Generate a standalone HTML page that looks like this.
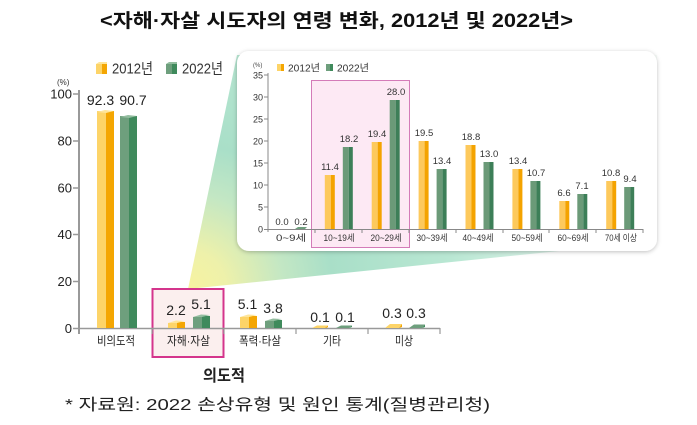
<!DOCTYPE html>
<html><head><meta charset="utf-8"><style>
html,body{margin:0;padding:0;background:#fff;}
svg{display:block;font-family:"Liberation Sans","Noto Sans CJK KR",sans-serif;}
</style></head><body>
<svg width="697" height="425" viewBox="0 0 697 425" xmlns="http://www.w3.org/2000/svg">
<defs>
<radialGradient id="wg" gradientUnits="userSpaceOnUse" cx="188" cy="289" r="480">
<stop offset="0" stop-color="#f7f3a0"/>
<stop offset="0.08" stop-color="#eef1aa"/>
<stop offset="0.2" stop-color="#c3e7c4"/>
<stop offset="0.3" stop-color="#a9dfc8"/>
<stop offset="0.55" stop-color="#b9e7d3"/>
<stop offset="0.8" stop-color="#dff3ea"/>
<stop offset="1" stop-color="#f7fcf9"/>
</radialGradient>
<filter id="sh" x="-5%" y="-5%" width="110%" height="115%">
<feDropShadow dx="0" dy="1" stdDeviation="2" flood-color="#000" flood-opacity="0.25"/>
</filter>
</defs>

<!-- Title -->
<text x="100" y="27" font-size="19" font-weight="bold" fill="#111" textLength="473" lengthAdjust="spacingAndGlyphs">&lt;자해·자살 시도자의 연령 변화, 2012년 및 2022년&gt;</text>

<!-- wedge -->
<polygon points="188,289 237,55 657,55 657,241" fill="url(#wg)"/>

<!-- main legend -->
<rect x="96" y="64" width="6" height="10" fill="#fdd468"/><rect x="102" y="64" width="5" height="10" fill="#f4a602"/><polygon points="96,64 99,62 107,62 107,64" fill="#fee59a"/>
<text x="112" y="73.5" font-size="15" fill="#333" textLength="41" lengthAdjust="spacingAndGlyphs">2012년</text>
<rect x="166" y="64" width="6" height="10" fill="#6e9f7d"/><rect x="172" y="64" width="5" height="10" fill="#3f8a5c"/><polygon points="166,64 169,62 177,62 177,64" fill="#93bd9f"/>
<text x="182" y="73.5" font-size="15" fill="#333" textLength="41" lengthAdjust="spacingAndGlyphs">2022년</text>

<!-- main axis -->
<text x="57" y="85" font-size="8" fill="#333">(%)</text>
<line x1="79" y1="90" x2="79" y2="334" stroke="#999" stroke-width="2"/>
<g stroke="#999" stroke-width="1.5">
<line x1="73" y1="94" x2="79" y2="94"/><line x1="73" y1="141" x2="79" y2="141"/><line x1="73" y1="188" x2="79" y2="188"/><line x1="73" y1="234.5" x2="79" y2="234.5"/><line x1="73" y1="281.5" x2="79" y2="281.5"/>
</g>
<g font-size="13" fill="#222" text-anchor="end">
<text x="72" y="98.5">100</text><text x="72" y="145.5">80</text><text x="72" y="192.5">60</text><text x="72" y="239">40</text><text x="72" y="286">20</text><text x="72" y="333">0</text>
</g>

<!-- pink box main -->
<rect x="152.5" y="289" width="71" height="68" fill="#fbefee" stroke="#d4358c" stroke-width="2"/>

<line x1="73" y1="328.5" x2="440" y2="328.5" stroke="#999" stroke-width="1.5"/>
<g stroke="#999" stroke-width="1.2">
<line x1="152" y1="328" x2="152" y2="334"/><line x1="224" y1="328" x2="224" y2="334"/><line x1="296" y1="328" x2="296" y2="334"/><line x1="368" y1="328" x2="368" y2="334"/><line x1="440" y1="328" x2="440" y2="334"/>
</g>

<!-- main bars -->
<g>
<rect x="97" y="111" width="9" height="217" fill="#fdd468"/><rect x="106" y="111" width="8" height="217" fill="#f4a602"/><polygon points="97,112 106,113 114,111 105,110" fill="#fee59a"/>
<rect x="120" y="116" width="9" height="212" fill="#6e9f7d"/><rect x="129" y="116" width="8" height="212" fill="#3f8a5c"/><polygon points="120,117 129,118 137,116 128,115" fill="#93bd9f"/>

<rect x="168" y="323" width="9" height="5" fill="#fdd468"/><rect x="177" y="322" width="8" height="6" fill="#f4a602"/><polygon points="168,323 177,323 185,321 176,320.5" fill="#fee59a"/>
<rect x="193" y="317" width="9" height="11" fill="#6e9f7d"/><rect x="202" y="316" width="8" height="12" fill="#3f8a5c"/><polygon points="193,317 202,317 210,315 201,314.5" fill="#93bd9f"/>

<rect x="240" y="317" width="9" height="11" fill="#fdd468"/><rect x="249" y="316" width="8" height="12" fill="#f4a602"/><polygon points="240,317 249,317 257,315 248,314.5" fill="#fee59a"/>
<rect x="265" y="321" width="9" height="7" fill="#6e9f7d"/><rect x="274" y="320" width="8" height="8" fill="#3f8a5c"/><polygon points="265,321 274,321 282,319 273,318.5" fill="#93bd9f"/>

<polygon points="312,328 317,325.5 328,325.5 325,328" fill="#fdd468"/><polygon points="325,328 328,325.5 328,327 326,328" fill="#f4a602"/>
<polygon points="336,328 341,325.5 352,325.5 349,328" fill="#6e9f7d"/><polygon points="349,328 352,325.5 352,327" fill="#3f8a5c"/>

<polygon points="385,328 390,324 402,324 399,328" fill="#fdd468"/><polygon points="399,328 402,324 402,327" fill="#f4a602"/>
<polygon points="409,328 414,324.5 425,324.5 422,328" fill="#6e9f7d"/><polygon points="422,328 425,324.5 425,327" fill="#3f8a5c"/>
</g>

<g font-size="14" fill="#222" text-anchor="middle">
<text x="100.5" y="105">92.3</text><text x="133" y="105">90.7</text>
<text x="176" y="315">2.2</text><text x="201" y="309">5.1</text>
<text x="247.5" y="309">5.1</text><text x="273" y="313">3.8</text>
<text x="320" y="322">0.1</text><text x="345" y="322">0.1</text>
<text x="392" y="318">0.3</text><text x="416" y="318">0.3</text>
</g>

<g font-size="12" fill="#222" text-anchor="middle">
<text x="116" y="345" textLength="38" lengthAdjust="spacingAndGlyphs">비의도적</text>
<text x="188.5" y="345" textLength="43" lengthAdjust="spacingAndGlyphs">자해·자살</text>
<text x="260" y="345" textLength="42" lengthAdjust="spacingAndGlyphs">폭력·타살</text>
<text x="332" y="345" textLength="18" lengthAdjust="spacingAndGlyphs">기타</text>
<text x="404" y="345" textLength="18" lengthAdjust="spacingAndGlyphs">미상</text>
</g>
<text x="224" y="381" font-size="16" font-weight="bold" fill="#222" text-anchor="middle" textLength="42" lengthAdjust="spacingAndGlyphs">의도적</text>

<text x="65" y="410" font-size="16" fill="#222" textLength="425" lengthAdjust="spacingAndGlyphs">* 자료원: 2022 손상유형 및 원인 통계(질병관리청)</text>

<!-- card -->
<rect x="237" y="51" width="420" height="200" rx="12" ry="12" fill="#fff" filter="url(#sh)"/>

<!-- inner pink box -->
<rect x="311.5" y="80.5" width="98" height="167" fill="#fde9f4" stroke="#d47bb8" stroke-width="1"/>

<!-- inner legend -->
<text x="253" y="67" font-size="6" fill="#444">(%)</text>
<rect x="277" y="64" width="4" height="7" fill="#fdd468"/><rect x="281" y="64" width="3" height="7" fill="#f4a602"/>
<text x="288" y="71.5" font-size="10" fill="#333" textLength="32" lengthAdjust="spacingAndGlyphs">2012년</text>
<rect x="326" y="64" width="4" height="7" fill="#6e9f7d"/><rect x="330" y="64" width="3" height="7" fill="#3f8a5c"/>
<text x="337" y="71.5" font-size="10" fill="#333" textLength="32" lengthAdjust="spacingAndGlyphs">2022년</text>

<!-- inner axes -->
<line x1="268" y1="73" x2="268" y2="232" stroke="#888" stroke-width="1"/>
<g stroke="#888" stroke-width="1">
<line x1="264" y1="75" x2="268" y2="75"/><line x1="264" y1="97" x2="268" y2="97"/><line x1="264" y1="119" x2="268" y2="119"/><line x1="264" y1="141" x2="268" y2="141"/><line x1="264" y1="163" x2="268" y2="163"/><line x1="264" y1="185" x2="268" y2="185"/><line x1="264" y1="207" x2="268" y2="207"/>
</g>
<g font-size="9" fill="#333" text-anchor="end">
<text x="263" y="78.5">35</text><text x="263" y="100.5">30</text><text x="263" y="122.5">25</text><text x="263" y="144.5">20</text><text x="263" y="166.5">15</text><text x="263" y="188.5">10</text><text x="263" y="210.5">5</text><text x="263" y="232.5">0</text>
</g>

<!-- inner bars -->
<g>
<polygon points="295,229 298,227 307,227 305,229" fill="#6e9f7d"/>
<rect x="324.8" y="175" width="6" height="54" fill="#fdc95c"/><rect x="330.8" y="175" width="4" height="54" fill="#f4a300"/>
<rect x="342.8" y="147" width="6" height="82" fill="#6b9a78"/><rect x="348.8" y="147" width="4" height="82" fill="#3d7f58"/>
<rect x="371.7" y="142" width="6" height="87" fill="#fdc95c"/><rect x="377.7" y="142" width="4" height="87" fill="#f4a300"/>
<rect x="389.7" y="100" width="6" height="129" fill="#6b9a78"/><rect x="395.7" y="100" width="4" height="129" fill="#3d7f58"/>
<rect x="418.6" y="141" width="6" height="88" fill="#fdc95c"/><rect x="424.6" y="141" width="4" height="88" fill="#f4a300"/>
<rect x="436.6" y="169" width="6" height="60" fill="#6b9a78"/><rect x="442.6" y="169" width="4" height="60" fill="#3d7f58"/>
<rect x="465.5" y="145" width="6" height="84" fill="#fdc95c"/><rect x="471.5" y="145" width="4" height="84" fill="#f4a300"/>
<rect x="483.5" y="162" width="6" height="67" fill="#6b9a78"/><rect x="489.5" y="162" width="4" height="67" fill="#3d7f58"/>
<rect x="512.4" y="169" width="6" height="60" fill="#fdc95c"/><rect x="518.4" y="169" width="4" height="60" fill="#f4a300"/>
<rect x="530.4" y="181" width="6" height="48" fill="#6b9a78"/><rect x="536.4" y="181" width="4" height="48" fill="#3d7f58"/>
<rect x="559.3" y="201" width="6" height="28" fill="#fdc95c"/><rect x="565.3" y="201" width="4" height="28" fill="#f4a300"/>
<rect x="577.3" y="194" width="6" height="35" fill="#6b9a78"/><rect x="583.3" y="194" width="4" height="35" fill="#3d7f58"/>
<rect x="606.2" y="181" width="6" height="48" fill="#fdc95c"/><rect x="612.2" y="181" width="4" height="48" fill="#f4a300"/>
<rect x="624.2" y="187" width="6" height="42" fill="#6b9a78"/><rect x="630.2" y="187" width="4" height="42" fill="#3d7f58"/>
</g>

<line x1="264" y1="229.5" x2="643" y2="229.5" stroke="#888" stroke-width="1"/>
<g stroke="#888" stroke-width="1">
<line x1="315" y1="229" x2="315" y2="233"/><line x1="362" y1="229" x2="362" y2="233"/><line x1="409" y1="229" x2="409" y2="233"/><line x1="456" y1="229" x2="456" y2="233"/><line x1="503" y1="229" x2="503" y2="233"/><line x1="549" y1="229" x2="549" y2="233"/><line x1="596" y1="229" x2="596" y2="233"/><line x1="643" y1="229" x2="643" y2="233"/>
</g>

<g font-size="9.5" fill="#333" text-anchor="middle">
<text x="282" y="225">0.0</text><text x="301" y="225">0.2</text>
<text x="330" y="170">11.4</text><text x="349" y="142">18.2</text>
<text x="377" y="137">19.4</text><text x="396" y="95">28.0</text>
<text x="424" y="136">19.5</text><text x="442" y="164">13.4</text>
<text x="471" y="140">18.8</text><text x="489" y="157">13.0</text>
<text x="518" y="164">13.4</text><text x="536" y="176">10.7</text>
<text x="564" y="196">6.6</text><text x="582" y="189">7.1</text>
<text x="611" y="176">10.8</text><text x="630" y="182">9.4</text>
</g>

<g font-size="9" fill="#333" text-anchor="middle">
<text x="291" y="241" textLength="30" lengthAdjust="spacingAndGlyphs">0~9세</text>
<text x="339" y="241" textLength="31" lengthAdjust="spacingAndGlyphs">10~19세</text>
<text x="386" y="241" textLength="31" lengthAdjust="spacingAndGlyphs">20~29세</text>
<text x="432" y="241" textLength="31" lengthAdjust="spacingAndGlyphs">30~39세</text>
<text x="478" y="241" textLength="31" lengthAdjust="spacingAndGlyphs">40~49세</text>
<text x="527" y="241" textLength="31" lengthAdjust="spacingAndGlyphs">50~59세</text>
<text x="573" y="241" textLength="31" lengthAdjust="spacingAndGlyphs">60~69세</text>
<text x="621" y="241" textLength="32" lengthAdjust="spacingAndGlyphs">70세 이상</text>
</g>
</svg>
</body></html>
